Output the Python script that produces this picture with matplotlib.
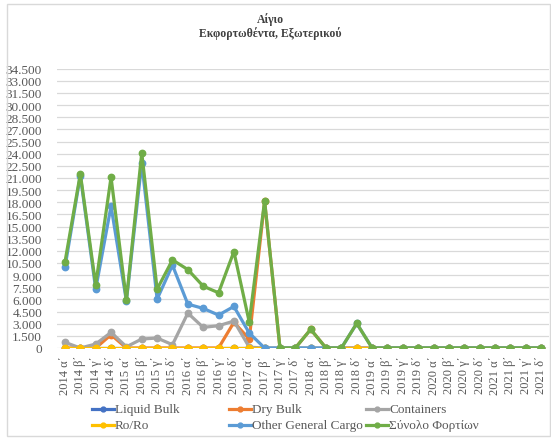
import matplotlib
matplotlib.use("Agg")
import matplotlib.pyplot as plt
import numpy as np
from matplotlib.patches import Rectangle
from matplotlib.lines import Line2D

plt.rcParams['font.family'] = ['Liberation Serif', 'DejaVu Serif']

categories = []
for yr in range(2014, 2022):
    for q in ["α΄", "β΄", "γ΄", "δ΄"]:
        categories.append(f"{yr} {q}")

n = len(categories)
liquid_bulk = [0] * 32
dry_bulk = [0, 0, 0, 1640, 0, 0, 0, 0, 0, 0, 0, 3170, 1110, 18100, 0, 0,
            2300, 0, 0, 0, 0, 0, 0, 0, 0, 0, 0, 0, 0, 0, 0, 0]
containers = [700, 0, 490, 1930, 150, 1110, 1230, 410, 4310, 2550, 2750, 3330, 100, 0, 0, 0,
              0, 0, 0, 0, 0, 0, 0, 0, 0, 0, 0, 0, 0, 0, 0, 0]
ro_ro = [0] * 32
other_general = [9980, 21300, 7270, 17530, 5800, 22880, 6040, 10230, 5420, 4890, 4070, 5130, 1850, 0, 0, 0,
                 0, 0, 0, 3040, 0, 0, 0, 0, 0, 0, 0, 0, 0, 0, 0, 0]
total = [10630, 21520, 7800, 21100, 5910, 24110, 7270, 10880, 9690, 7640, 6820, 11910, 3200, 18190, 0, 0,
         2300, 0, 0, 3040, 0, 0, 0, 0, 0, 0, 0, 0, 0, 0, 0, 0]

series = [
    ("Liquid Bulk", liquid_bulk, "#4472C4"),
    ("Dry Bulk", dry_bulk, "#ED7D31"),
    ("Containers", containers, "#A5A5A5"),
    ("Ro/Ro", ro_ro, "#FFC000"),
    ("Other General Cargo", other_general, "#5B9BD5"),
    ("Σύνολο Φορτίων", total, "#70AD47"),
]

W, H = 551, 439
fig = plt.figure(figsize=(W / 100, H / 100), dpi=100)
fig.patches.append(Rectangle((0.013, 0.004), 0.985, 0.985, transform=fig.transFigure,
                             fill=False, edgecolor="#d9d9d9", linewidth=1))
ax = fig.add_axes([57.3 / W, 1 - 349 / H, (548.7 - 57.3) / W, (349 - 69.7) / H])

x = np.arange(n)
for name, vals, col in series:
    ax.plot(x, vals, color=col, linewidth=2.3, marker='o', markersize=4.6,
            label=name, solid_capstyle='round')

ax.set_xlim(-0.5, n - 0.5)
ax.set_ylim(0, 34500)
yt = np.arange(0, 34501, 1500)
ax.set_yticks(yt)
ax.set_yticklabels([f"{v:,}".replace(",", ".") for v in yt], fontsize=9.5, color="#595959")
ax.set_xticks(x)
ax.set_xticklabels(categories, rotation=90, fontsize=9, color="#595959")
ax.tick_params(axis='y', length=0, pad=11)
ax.tick_params(axis='x', length=0, pad=5)
ax.grid(axis='y', color="#d9d9d9", linewidth=0.9)
ax.set_axisbelow(True)
for s in ax.spines.values():
    s.set_visible(False)

fig.text(270 / W, 1 - 19.5 / H, "Αίγιο", ha='center', va='center', fontsize=8.5,
         fontweight='bold', color="#404040")
fig.text(270 / W, 1 - 33.5 / H, "Εκφορτωθέντα, Εξωτερικού", ha='center', va='center', fontsize=8.5,
         fontweight='bold', color="#404040")

# manual legend
leg_pos = {
    "Liquid Bulk": (92, 410), "Dry Bulk": (229, 410), "Containers": (366, 410),
    "Ro/Ro": (92, 426), "Other General Cargo": (229, 426), "Σύνολο Φορτίων": (366, 426),
}
for name, vals, col in series:
    px, py = leg_pos[name]
    yy = 1 - py / H
    fig.add_artist(Line2D([px / W, (px + 22) / W], [yy, yy], transform=fig.transFigure,
                          color=col, linewidth=2.3))
    fig.add_artist(Line2D([(px + 11) / W], [yy], transform=fig.transFigure,
                          color=col, marker='o', markersize=3.5, linestyle='none'))
    fig.text((px + 23) / W, yy, name, ha='left', va='center', fontsize=9.5, color="#595959")

fig.savefig("out.png", dpi=100)
